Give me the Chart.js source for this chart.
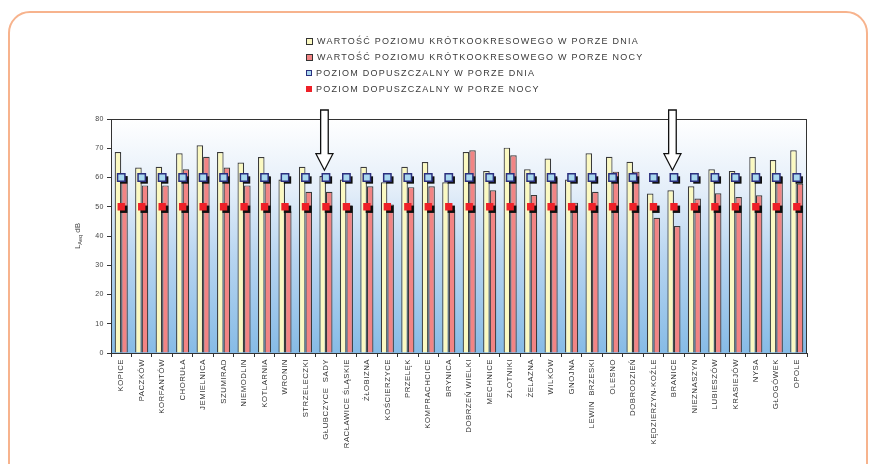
<!DOCTYPE html>
<html><head><meta charset="utf-8">
<script src="https://cdn.jsdelivr.net/npm/chart.js@4.4.0/dist/chart.umd.min.js"></script>
<style>
html,body{margin:0;padding:0;background:#fff;}
#wrap{position:relative;width:876px;height:464px;overflow:hidden;background:#fff;}
#card{position:absolute;left:8px;top:11px;width:860px;height:500px;border:2.5px solid #f7b38d;border-radius:22px;box-sizing:border-box;}
#c{position:absolute;left:0;top:0;}
#legend{position:absolute;left:306px;top:33px;font-family:"Liberation Sans",Arial,sans-serif;font-size:9px;letter-spacing:1.25px;color:#3a3a3a;}
.li{height:16px;display:flex;align-items:center;white-space:nowrap;}
.sw{display:inline-block;margin-right:4px;box-sizing:border-box;}
</style></head>
<body>
<div id="wrap">
<div id="card"></div>
<canvas id="c" width="876" height="464"></canvas>
<div id="legend"></div>
</div>
<script>
const categories = ['KOPICE','PACZKÓW','KORFANTÓW','CHORUŁA','JEMIELNICA','SZUMIRAD','NIEMODLIN','KOTLARNIA','WRONIN','STRZELECZKI','GŁUBCZYCE  SADY','RACŁAWICE ŚLĄSKIE','ŻŁOBIZNA','KOŚCIERZYCE','PRZELĘK','KOMPRACHCICE','BRYNICA','DOBRZEŃ WIELKI','MECHNICE','ZŁOTNIKI','ŻELAZNA','WILKÓW','GNOJNA','LEWIN  BRZESKI','OLESNO','DOBRODZIEŃ','KĘDZIERZYN-KOŹLE','BRANICE','NIEZNASZYN','LUBIESZÓW','KRASIEJÓW','NYSA','GŁOGÓWEK','OPOLE'];
const dayValues = [68.7,63.4,63.7,68.3,71.0,68.7,65.1,67.0,59.3,63.7,60.5,59.3,63.7,58.4,63.7,65.3,58.4,68.7,62.2,70.2,62.8,66.5,59.3,68.3,67.1,65.4,54.5,55.6,57.0,62.8,62.2,67.0,66.0,69.3];
const nightValues = [60.5,57.3,57.3,62.8,67.1,63.4,57.3,60.3,48.5,55.1,55.1,50.3,57.0,50.8,56.7,57.0,49.0,69.3,55.6,67.6,54.0,60.0,51.4,55.1,62.0,62.0,46.2,43.4,52.8,54.6,53.3,53.9,60.3,57.9];
const dayLimit = [60,60,60,60,60,60,60,60,60,60,60,60,60,60,60,60,60,60,60,60,60,60,60,60,60,60,60,60,60,60,60,60,60,60];
const nightLimit = [50,50,50,50,50,50,50,50,50,50,50,50,50,50,50,50,50,50,50,50,50,50,50,50,50,50,50,50,50,50,50,50,50,50];
const yTicks = [0,10,20,30,40,50,60,70,80];
const seriesNames = ['WARTOŚĆ POZIOMU KRÓTKOOKRESOWEGO W PORZE DNIA','WARTOŚĆ POZIOMU KRÓTKOOKRESOWEGO W PORZE NOCY','POZIOM DOPUSZCZALNY W PORZE DNIA','POZIOM DOPUSZCZALNY W PORZE NOCY'];
const arrowAt = ['GŁUBCZYCE  SADY','BRANICE'];
const arrowTipValue = 62.5;

const FONT = '"Liberation Sans", Arial, sans-serif';
const C_DAY = '#fbf9c2', C_NIGHT = '#f28484', C_EDGE = '#3a3a3a';
const C_LIM_DAY_FILL = '#a9d8f0', C_LIM_DAY_EDGE = '#2b2f7e', C_LIM_NIGHT = '#ee2028';

const swatches = [
  'width:7px;height:7px;background:'+C_DAY+';border:1.2px solid #333;',
  'width:7px;height:7px;background:'+C_NIGHT+';border:1.2px solid #333;',
  'width:6px;height:6px;background:'+C_LIM_DAY_FILL+';border:1.2px solid '+C_LIM_DAY_EDGE+';',
  'width:6px;height:6px;background:'+C_LIM_NIGHT+';'
];
document.getElementById('legend').innerHTML = seriesNames.map((n,i)=>
  '<div class="li"><span class="sw" style="'+swatches[i]+'"></span>'+n+'</div>').join('');

const decor = {
  id:'decor',
  beforeDraw(chart){
    const {ctx, chartArea:a} = chart;
    const g = ctx.createLinearGradient(0,a.top,0,a.bottom);
    g.addColorStop(0,'#ffffff');
    g.addColorStop(0.3,'#e4eef9');
    g.addColorStop(0.6,'#b6d4f0');
    g.addColorStop(1,'#86bbe6');
    ctx.save(); ctx.fillStyle=g; ctx.fillRect(a.left,a.top,a.right-a.left,a.bottom-a.top); ctx.restore();
  },
  beforeDatasetDraw(chart,args){
    const ds = chart.data.datasets[args.index];
    if (ds.type==='line'){
      const ctx=chart.ctx, s=ds.pointRadius*Math.SQRT1_2;
      ctx.save(); ctx.fillStyle='#111';
      args.meta.data.forEach(p=>{ ctx.fillRect(p.x-s+2.5,p.y-s+2.5,2*s,2*s); });
      ctx.restore();
    }
  },
  beforeDatasetsDraw(chart){
    if ('letterSpacing' in chart.ctx) chart.ctx.letterSpacing='0px';
  },
  afterDraw(chart){
    const {ctx, chartArea:a, scales} = chart;
    ctx.save();
    ctx.strokeStyle='#333'; ctx.lineWidth=1;
    ctx.strokeRect(a.left+0.5,a.top+0.5,a.right-a.left-1,a.bottom-a.top);
    arrowAt.forEach(name=>{
      const i = categories.indexOf(name);
      const cx = scales.x.getPixelForValue(i)-1.5;
      const top = a.top-9, tip = scales.y.getPixelForValue(arrowTipValue);
      const hl = 16.5, sw = 3.8, hw = 8.5;
      ctx.beginPath();
      ctx.moveTo(cx-sw,top); ctx.lineTo(cx+sw,top); ctx.lineTo(cx+sw,tip-hl);
      ctx.lineTo(cx+hw,tip-hl); ctx.lineTo(cx,tip); ctx.lineTo(cx-hw,tip-hl);
      ctx.lineTo(cx-sw,tip-hl); ctx.closePath();
      ctx.fillStyle='#fff'; ctx.fill(); ctx.strokeStyle='#111'; ctx.lineWidth=1.3; ctx.stroke();
    });
    ctx.translate(77,236); ctx.rotate(-Math.PI/2);
    ctx.fillStyle='#444'; ctx.textBaseline='alphabetic';
    const f1='8px '+FONT, f2='5.5px '+FONT;
    ctx.font=f1; const wL=ctx.measureText('L').width, wdB=ctx.measureText(' dB').width;
    ctx.font=f2; const wA=ctx.measureText('Aeq').width;
    let x=-(wL+wA+wdB)/2;
    ctx.font=f1; ctx.fillText('L',x,3); x+=wL;
    ctx.font=f2; ctx.fillText('Aeq',x,5); x+=wA;
    ctx.font=f1; ctx.fillText(' dB',x,3);
    ctx.restore();
  }
};

// letter spacing for x-axis labels only
const xSpacing = {
  id:'xSpacing',
  beforeDraw(chart){ if ('letterSpacing' in chart.ctx) chart.ctx.letterSpacing='0.5px'; }
};

new Chart(document.getElementById('c'), {
  data:{
    labels:categories,
    datasets:[
      {type:'line',label:seriesNames[2],data:dayLimit,showLine:false,pointStyle:'rect',pointRadius:5.2,pointHoverRadius:5.2,
        pointBackgroundColor:C_LIM_DAY_FILL,pointBorderColor:C_LIM_DAY_EDGE,pointBorderWidth:1.5,order:1},
      {type:'line',label:seriesNames[3],data:nightLimit,showLine:false,pointStyle:'rect',pointRadius:5.2,pointHoverRadius:5.2,
        pointBackgroundColor:C_LIM_NIGHT,pointBorderColor:C_LIM_NIGHT,pointBorderWidth:0,order:1},
      {type:'bar',label:seriesNames[0],data:dayValues,backgroundColor:C_DAY,borderColor:C_EDGE,borderWidth:1.2,
        categoryPercentage:0.64,barPercentage:1.0,order:2},
      {type:'bar',label:seriesNames[1],data:nightValues,backgroundColor:C_NIGHT,borderColor:C_EDGE,borderWidth:1.2,
        categoryPercentage:0.64,barPercentage:1.0,order:2}
    ]
  },
  options:{
    responsive:false, animation:false, devicePixelRatio:1,
    layout:{padding:{left:60,right:69,top:119,bottom:0}},
    plugins:{legend:{display:false},tooltip:{enabled:false}},
    scales:{
      x:{
        afterFit(s){s.height=111;},
        grid:{display:true,drawOnChartArea:false,offset:true,tickLength:4,color:'#333',lineWidth:1},
        border:{display:true,color:'#333',width:1},
        ticks:{autoSkip:false,minRotation:90,maxRotation:90,padding:2,color:'#333',font:{family:FONT,size:7.8}}
      },
      y:{
        min:0,max:80,
        afterFit(s){s.width=51;},
        afterBuildTicks(s){s.ticks=yTicks.map(v=>({value:v}));},
        grid:{display:true,drawOnChartArea:false,tickLength:4,color:'#333'},
        border:{display:true,color:'#333',width:1},
        ticks:{padding:3,color:'#444',font:{family:FONT,size:7}}
      }
    }
  },
  plugins:[xSpacing,decor]
});
</script>
</body></html>
